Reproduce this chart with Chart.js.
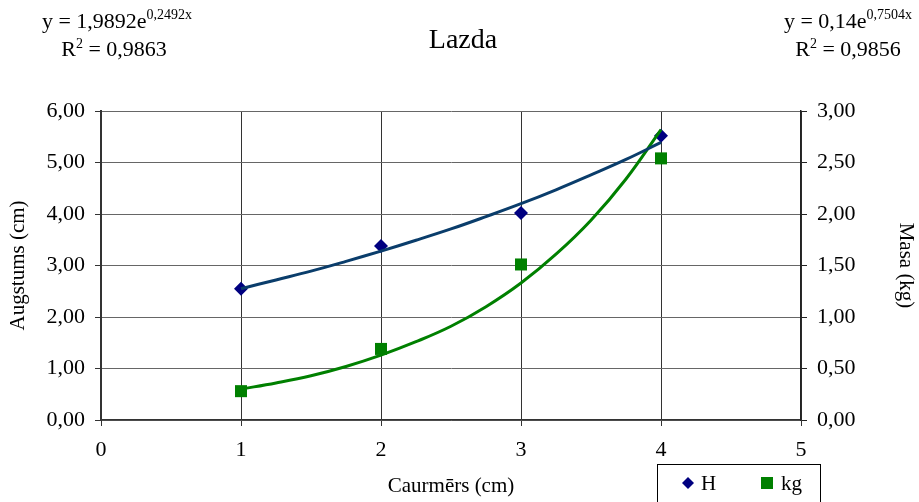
<!DOCTYPE html>
<html>
<head>
<meta charset="utf-8">
<script src="https://cdn.jsdelivr.net/npm/chart.js@4.4.1/dist/chart.umd.min.js"></script>
<style>
  html, body { margin: 0; padding: 0; background: #fff; }
  #wrap { width: 919px; height: 502px; }
</style>
</head>
<body>
<div id="wrap"><canvas id="lazda"></canvas></div>
<script>
// measured points
const caurmers = [1, 2, 3, 4]
const augstums = [2.55, 3.38, 4.02, 5.52]
const masa = [0.28, 0.69, 1.51, 2.54]

// exponential trendlines
const trendX = [1, 1.25, 1.5, 1.75, 2, 2.25, 2.5, 2.75, 3, 3.25, 3.5, 3.75, 4]
const trendH = [2.55, 2.72, 2.89, 3.08, 3.28, 3.49, 3.71, 3.95, 4.20, 4.47, 4.76, 5.06, 5.39]
const trendKg = [0.30, 0.36, 0.43, 0.52, 0.63, 0.76, 0.91, 1.10, 1.33, 1.61, 1.94, 2.34, 2.82]

const xTicks = [0, 1, 2, 3, 4, 5]
const leftTicks = [0, 1, 2, 3, 4, 5, 6]
const rightTicks = [0, 0.5, 1, 1.5, 2, 2.5, 3]

const SERIF = "'Liberation Serif', 'Times New Roman', serif"
const blue = '#000080'
const trendBlue = '#0a3d6b'
const green = '#008000'

const toPts = (xs, ys) => xs.map((x, i) => ({ x: x, y: ys[i] }))
const comma = v => v.toFixed(2).replace('.', ',')

// equation text with superscript
function drawEq(ctx, cx, baseY, main, sup) {
    ctx.font = '22px ' + SERIF
    const w1 = ctx.measureText(main).width
    ctx.font = '14px ' + SERIF
    const w2 = ctx.measureText(sup).width
    const x0 = cx - (w1 + w2) / 2
    ctx.textAlign = 'left'
    ctx.textBaseline = 'alphabetic'
    ctx.font = '22px ' + SERIF
    ctx.fillText(main, x0, baseY)
    ctx.font = '14px ' + SERIF
    ctx.fillText(sup, x0 + w1, baseY - 9)
}

function drawR2(ctx, cx, baseY, value) {
    ctx.font = '22px ' + SERIF
    const a = 'R', b = ' = ' + value
    const wa = ctx.measureText(a).width
    const wb = ctx.measureText(b).width
    ctx.font = '14px ' + SERIF
    const ws = ctx.measureText('2').width
    const x0 = cx - (wa + ws + wb) / 2
    ctx.textAlign = 'left'
    ctx.textBaseline = 'alphabetic'
    ctx.font = '22px ' + SERIF
    ctx.fillText(a, x0, baseY)
    ctx.fillText(b, x0 + wa + ws, baseY)
    ctx.font = '14px ' + SERIF
    ctx.fillText('2', x0 + wa, baseY - 8)
}

const textPlugin = {
    id: 'texts',
    afterDraw(chart) {
        const ctx = chart.ctx
        ctx.save()
        ctx.fillStyle = '#000'

        ctx.font = '28px ' + SERIF
        ctx.textAlign = 'center'
        ctx.textBaseline = 'alphabetic'
        ctx.fillText('Lazda', 463, 48)

        drawEq(ctx, 117, 28, 'y = 1,9892e', '0,2492x')
        drawR2(ctx, 114, 56, '0,9863')
        drawEq(ctx, 848, 28, 'y = 0,14e', '0,7504x')
        drawR2(ctx, 848, 56, '0,9856')

        // legend box
        ctx.strokeStyle = '#000'
        ctx.lineWidth = 1
        ctx.strokeRect(657.5, 464.5, 163, 40)
        ctx.fillStyle = blue
        ctx.beginPath()
        ctx.moveTo(688, 477); ctx.lineTo(694, 483); ctx.lineTo(688, 489); ctx.lineTo(682, 483)
        ctx.closePath(); ctx.fill()
        ctx.fillStyle = green
        ctx.fillRect(761, 477, 12, 12)
        ctx.fillStyle = '#000'
        ctx.font = '21px ' + SERIF
        ctx.textAlign = 'left'
        ctx.textBaseline = 'middle'
        ctx.fillText('H', 701, 484)
        ctx.fillText('kg', 781, 484)
        ctx.restore()
    }
}

const tickFont = { family: SERIF, size: 22 }
const titleFont = { family: SERIF, size: 21 }

new Chart(document.getElementById('lazda'), {
    type: 'scatter',
    data: {
        datasets: [
            {
                label: 'H trend',
                data: toPts(trendX, trendH),
                showLine: true,
                borderColor: trendBlue,
                borderWidth: 3,
                pointRadius: 0,
                tension: 0.4,
                yAxisID: 'y'
            },
            {
                label: 'kg trend',
                data: toPts(trendX, trendKg),
                showLine: true,
                borderColor: green,
                borderWidth: 3,
                pointRadius: 0,
                tension: 0.4,
                yAxisID: 'y1'
            },
            {
                label: 'H',
                data: toPts(caurmers, augstums),
                pointStyle: 'rectRot',
                pointRadius: 7,
                backgroundColor: blue,
                borderColor: blue,
                borderWidth: 0,
                yAxisID: 'y'
            },
            {
                label: 'kg',
                data: toPts(caurmers, masa),
                pointStyle: 'rect',
                pointRadius: 8.5,
                backgroundColor: green,
                borderColor: green,
                borderWidth: 0,
                yAxisID: 'y1'
            }
        ]
    },
    options: {
        responsive: true,
        maintainAspectRatio: false,
        animation: false,
        layout: { padding: { top: 111, left: 0, right: 0, bottom: 0 } },
        plugins: {
            legend: { display: false },
            tooltip: { enabled: false }
        },
        scales: {
            x: {
                type: 'linear',
                min: 0,
                max: 5,
                afterBuildTicks: s => { s.ticks = xTicks.map(v => ({ value: v })) },
                afterFit: s => { s.height = 82 },
                ticks: { color: '#000', font: tickFont, padding: 11, maxRotation: 0 },
                grid: { color: '#333', lineWidth: 1, tickLength: 6, tickColor: '#333' },
                border: { color: '#333', width: 1.5 },
                title: { display: true, text: 'Caurmērs (cm)', color: '#000', font: titleFont, padding: { bottom: 3 } }
            },
            y: {
                position: 'left',
                min: 0,
                max: 6,
                afterBuildTicks: s => { s.ticks = leftTicks.map(v => ({ value: v })) },
                afterFit: s => { s.width = 101 },
                ticks: { color: '#000', font: tickFont, padding: 10, callback: comma },
                grid: { color: '#666', lineWidth: 1, tickLength: 6, tickColor: '#333' },
                border: { color: '#333', width: 2 },
                title: { display: true, text: 'Augstums (cm)', color: '#000', font: titleFont, padding: { top: 6 } }
            },
            y1: {
                position: 'right',
                min: 0,
                max: 3,
                afterBuildTicks: s => { s.ticks = rightTicks.map(v => ({ value: v })) },
                afterFit: s => { s.width = 118 },
                ticks: { color: '#000', font: tickFont, padding: 10, callback: comma },
                grid: { drawOnChartArea: false, tickLength: 6, tickColor: '#222' },
                border: { color: '#222', width: 1.5 },
                title: { display: true, text: 'Masa (kg)', color: '#000', font: titleFont, padding: { top: 1 } }
            }
        }
    },
    plugins: [textPlugin]
})
</script>
</body>
</html>
